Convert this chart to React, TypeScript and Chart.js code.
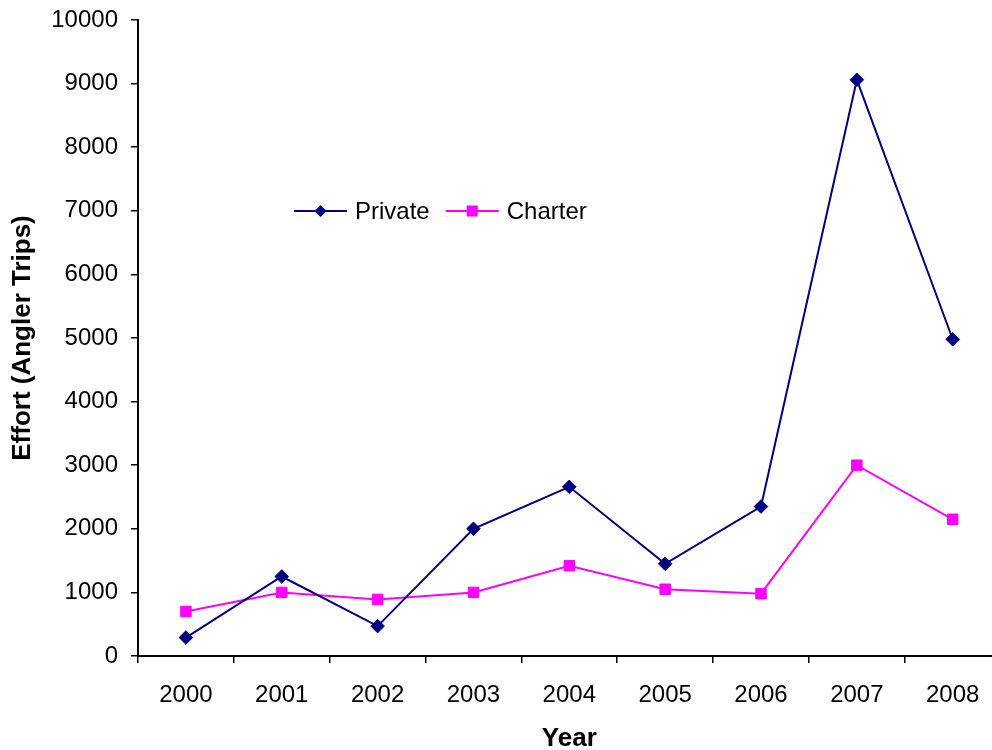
import React, { useEffect, useRef } from "react";
import { Chart, registerables } from "chart.js";

Chart.register(...registerables);

// Recreational effort by fishing mode, 2000-2008
const years = ["2000", "2001", "2002", "2003", "2004", "2005", "2006", "2007", "2008"];
const privateTrips = [290, 1250, 470, 2000, 2660, 1450, 2350, 9060, 4980];
const charterTrips = [700, 1000, 890, 1000, 1420, 1050, 980, 3000, 2150];

const FONT = "'Liberation Sans', Arial, Helvetica, sans-serif";
const NAVY = "#000080";
const MAGENTA = "#FF00FF";

function drawMarker(ctx: CanvasRenderingContext2D, style: string, x: number, y: number, r: number, color: string) {
  ctx.save();
  ctx.fillStyle = color;
  ctx.beginPath();
  if (style === "rectRot") {
    ctx.moveTo(x, y - r);
    ctx.lineTo(x + r, y);
    ctx.lineTo(x, y + r);
    ctx.lineTo(x - r, y);
    ctx.closePath();
  } else {
    const s = r * Math.SQRT1_2;
    ctx.rect(x - s, y - s, 2 * s, 2 * s);
  }
  ctx.fill();
  ctx.restore();
}

// Legend drawn inside the plot area, line + marker + label per series
const insideLegend = {
  id: "insideLegend",
  afterDraw(chart: any) {
    const ctx: CanvasRenderingContext2D = chart.ctx;
    const startX = 294;
    const y = 211;
    const lineLen = 53;
    const textGap = 8;
    const itemGap = 16;
    let x = startX;
    ctx.save();
    ctx.font = `24px ${FONT}`;
    ctx.textBaseline = "middle";
    ctx.textAlign = "left";
    chart.data.datasets.forEach((ds: any) => {
      ctx.strokeStyle = ds.borderColor;
      ctx.lineWidth = 2;
      ctx.beginPath();
      ctx.moveTo(x, y);
      ctx.lineTo(x + lineLen, y);
      ctx.stroke();
      const legendR = ds.pointStyle === "rectRot" ? 6 : 7.8;
      drawMarker(ctx, ds.pointStyle, x + lineLen / 2, y, legendR, ds.pointBackgroundColor);
      ctx.fillStyle = "#000";
      const tx = x + lineLen + textGap;
      ctx.fillText(ds.label, tx, y + 1);
      x = tx + ctx.measureText(ds.label).width + itemGap;
    });
    ctx.restore();
  },
};

export default function App() {
  const canvasRef = useRef<HTMLCanvasElement | null>(null);

  useEffect(() => {
    const canvas = canvasRef.current;
    if (!canvas) return;
    const chart = new Chart(canvas, {
      type: "line",
      data: {
        labels: years,
        datasets: [
          {
            label: "Private",
            data: privateTrips,
            borderColor: NAVY,
            backgroundColor: NAVY,
            pointBackgroundColor: NAVY,
            pointBorderColor: NAVY,
            pointStyle: "rectRot",
            pointRadius: 6.8,
            pointBorderWidth: 1,
            borderWidth: 2,
            tension: 0,
          },
          {
            label: "Charter",
            data: charterTrips,
            borderColor: MAGENTA,
            backgroundColor: MAGENTA,
            pointBackgroundColor: MAGENTA,
            pointBorderColor: MAGENTA,
            pointStyle: "rect",
            pointRadius: 7.4,
            pointBorderWidth: 1,
            borderWidth: 2,
            tension: 0,
          },
        ],
      },
      options: {
        responsive: false,
        animation: false,
        layout: { padding: { left: 0, top: 20, right: 0, bottom: 0 } },
        plugins: {
          legend: { display: false },
          tooltip: { enabled: false },
        },
        scales: {
          x: {
            type: "category",
            offset: true,
            grid: {
              offset: true,
              drawOnChartArea: false,
              drawTicks: true,
              tickLength: 7,
              tickColor: "#000",
              lineWidth: 1.5,
            },
            border: { display: true, color: "#000", width: 2 },
            ticks: {
              color: "#000",
              font: { family: FONT, size: 24 },
              padding: 18,
              maxRotation: 0,
              autoSkip: false,
            },
            title: {
              display: true,
              text: "Year",
              color: "#000",
              font: { family: FONT, size: 26, weight: "bold", lineHeight: 1 },
              padding: { top: 0, bottom: -2 },
            },
            afterFit: (scale: any) => {
              scale.height = 94;
              scale.paddingLeft = 0;
              scale.paddingRight = 0;
            },
          },
          y: {
            min: 0,
            max: 10000,
            grid: {
              drawOnChartArea: false,
              drawTicks: true,
              tickLength: 7,
              tickColor: "#000",
              lineWidth: 1.5,
            },
            border: { display: true, color: "#000", width: 2 },
            ticks: {
              stepSize: 1000,
              color: "#000",
              font: { family: FONT, size: 24 },
              padding: 13,
              callback: (v: any) => String(v),
            },
            title: {
              display: true,
              text: "Effort (Angler Trips)",
              color: "#000",
              font: { family: FONT, size: 26, weight: "bold", lineHeight: 1 },
              padding: { top: 10, bottom: 0 },
            },
            afterFit: (scale: any) => {
              scale.width = 138;
              scale.paddingTop = 0;
              scale.paddingBottom = 0;
            },
          },
        },
      },
      plugins: [insideLegend],
    });
    return () => chart.destroy();
  }, []);

  return (
    <div
      style={{
        position: "fixed",
        left: 0,
        top: 0,
        width: "992px",
        height: "750px",
        overflow: "hidden",
        background: "#fff",
      }}
    >
      <canvas ref={canvasRef} width={1009} height={750} style={{ display: "block" }} />
    </div>
  );
}
